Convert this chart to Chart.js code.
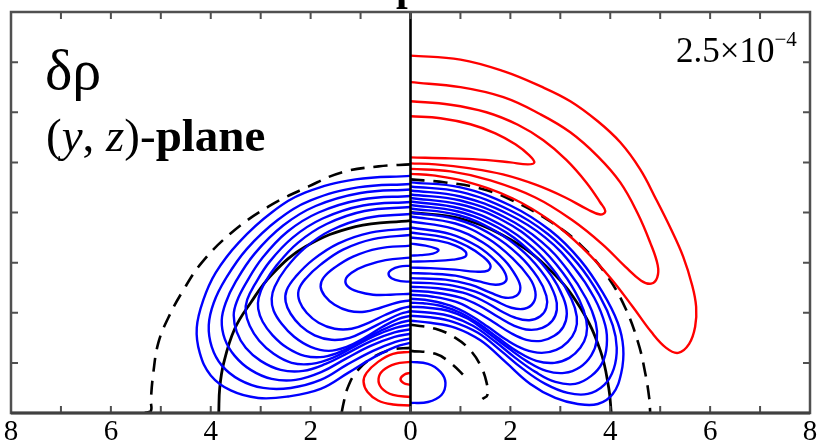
<!DOCTYPE html>
<html>
<head>
<meta charset="utf-8">
<script src="https://cdn.jsdelivr.net/npm/chart.js@4.4.1/dist/chart.umd.min.js"></script>
<style>
  body { margin: 0; background: #fff; }
  #wrap { position: relative; width: 820px; height: 445px; overflow: hidden; background: #fff; }
  #wrap canvas { position: absolute; left: 0; top: 0; }
  .lbl { position: absolute; font-family: 'Liberation Serif', 'Times New Roman', serif; color: #000; white-space: nowrap; line-height: 1; }
</style>
</head>
<body>
<div id="wrap">
  <canvas id="plot" width="820" height="445"></canvas>
  <span class="lbl" style="left:396px; top:-35px; font-size:42px; font-weight:bold;">p</span>
  <span class="lbl" style="left:45px; top:41px; font-size:58px;">δρ</span>
  <span class="lbl" style="left:46px; top:112px; font-size:47px;">(<i>y</i>, <i>z</i>)-<b>plane</b></span>
  <span class="lbl" style="left:676px; top:33px; font-size:35px;">2.5×10<span style="font-size:21px; position:relative; top:-16px;">−4</span></span>
</div>
<script>
// axis ticks
const xTickLabels = ['8', '6', '4', '2', '0', '2', '4', '6', '8'];
const xMinorTicks = [-8, -7, -6, -5, -4, -3, -2, -1, 0, 1, 2, 3, 4, 5, 6, 7, 8];
const yMinorTicks = [0, 1, 2, 3, 4, 5, 6, 7, 8];

// middle axis line
const centerLine = [[0, 0], [0, 8]];

// left half: blue contours (outer -> inner)
const leftBlue = [
  [[0,4.73],[-1.1,4.66],[-2.1,4.4],[-2.78,4.0],[-3.44,3.4],[-3.9,2.8],[-4.15,2.25],[-4.28,1.7],[-4.22,1.2],[-4.0,0.75],[-3.6,0.45],[-3.05,0.3],[-2.45,0.33],[-1.8,0.48],[-1.25,0.8],[-0.72,1.12],[-0.3,1.32],[0,1.4]],
  [[0,4.57],[-1.05,4.5],[-2.0,4.24],[-2.66,3.85],[-3.28,3.27],[-3.7,2.68],[-3.94,2.2],[-4.04,1.75],[-3.98,1.32],[-3.78,0.95],[-3.42,0.66],[-2.95,0.5],[-2.4,0.5],[-1.8,0.66],[-1.28,0.96],[-0.75,1.24],[-0.3,1.42],[0,1.49]],
  [[0,4.46],[-1.0,4.39],[-1.9,4.13],[-2.55,3.74],[-3.12,3.18],[-3.5,2.62],[-3.7,2.2],[-3.78,1.85],[-3.72,1.48],[-3.52,1.14],[-3.2,0.86],[-2.78,0.68],[-2.3,0.66],[-1.78,0.82],[-1.3,1.08],[-0.8,1.34],[-0.32,1.52],[0,1.58]],
  [[0,4.33],[-0.98,4.26],[-1.84,4.0],[-2.46,3.62],[-2.96,3.1],[-3.3,2.58],[-3.48,2.22],[-3.54,1.95],[-3.48,1.62],[-3.3,1.3],[-3.0,1.04],[-2.6,0.86],[-2.15,0.84],[-1.7,0.98],[-1.25,1.2],[-0.78,1.44],[-0.32,1.61],[0,1.67]],
  [[0,4.21],[-0.95,4.14],[-1.76,3.88],[-2.36,3.5],[-2.82,3.02],[-3.12,2.56],[-3.27,2.26],[-3.3,2.02],[-3.22,1.74],[-3.03,1.44],[-2.74,1.18],[-2.38,1.0],[-1.98,0.98],[-1.56,1.1],[-1.14,1.32],[-0.72,1.54],[-0.3,1.7],[0,1.76]],
  [[0,4.11],[-0.92,4.03],[-1.68,3.77],[-2.25,3.4],[-2.67,2.96],[-2.94,2.56],[-3.04,2.3],[-3.05,2.08],[-2.96,1.82],[-2.76,1.55],[-2.47,1.3],[-2.12,1.14],[-1.74,1.12],[-1.36,1.24],[-0.98,1.44],[-0.6,1.64],[-0.25,1.79],[0,1.85]],
  [[0,3.97],[-0.88,3.89],[-1.6,3.64],[-2.13,3.28],[-2.5,2.88],[-2.72,2.52],[-2.78,2.28],[-2.74,2.04],[-2.58,1.78],[-2.33,1.52],[-2.0,1.32],[-1.64,1.24],[-1.28,1.32],[-0.92,1.5],[-0.56,1.72],[-0.24,1.88],[0,1.94]],
  [[0,3.68],[-0.8,3.6],[-1.45,3.38],[-1.95,3.06],[-2.3,2.72],[-2.48,2.45],[-2.5,2.22],[-2.4,1.98],[-2.2,1.74],[-1.92,1.55],[-1.58,1.46],[-1.22,1.5],[-0.86,1.66],[-0.5,1.84],[-0.2,1.98],[0,2.03]],
  [[0,3.55],[-0.75,3.47],[-1.35,3.26],[-1.8,2.96],[-2.1,2.68],[-2.24,2.45],[-2.22,2.22],[-2.08,2.0],[-1.84,1.8],[-1.52,1.68],[-1.18,1.68],[-0.84,1.8],[-0.5,1.96],[-0.2,2.08],[0,2.13]],
  [[0,3.34],[-0.65,3.28],[-1.15,3.12],[-1.52,2.9],[-1.74,2.7],[-1.8,2.52],[-1.72,2.34],[-1.52,2.16],[-1.24,2.04],[-0.92,2.02],[-0.6,2.1],[-0.28,2.2],[0,2.25]],
  [[0,3.1],[-0.5,3.05],[-0.9,2.94],[-1.18,2.8],[-1.3,2.66],[-1.25,2.52],[-1.05,2.42],[-0.75,2.36],[-0.4,2.36],[0,2.38]],
  [[0,2.94],[-0.22,2.92],[-0.38,2.86],[-0.44,2.78],[-0.38,2.69],[-0.2,2.63],[0,2.62]]
];

// left half: red contours near the bottom
const leftRed = [
  [[0,1.22],[-0.35,1.18],[-0.65,1.02],[-0.88,0.8],[-0.94,0.62],[-0.86,0.42],[-0.65,0.25],[-0.35,0.17],[0,0.15]],
  [[0,1.02],[-0.3,0.98],[-0.55,0.85],[-0.64,0.68],[-0.58,0.5],[-0.35,0.36],[0,0.32]],
  [[0,0.8],[-0.12,0.77],[-0.2,0.68],[-0.14,0.6],[0,0.56]]
];

// right half: blue contours (outer -> inner)
const rightBlue = [
  [[0,4.6],[1.0,4.5],[2.0,4.14],[2.8,3.64],[3.4,3.05],[3.85,2.4],[4.15,1.8],[4.26,1.3],[4.22,0.8],[4.05,0.38],[3.75,0.18],[3.35,0.18],[2.9,0.3],[2.4,0.58],[1.9,1.02],[1.4,1.45],[0.9,1.7],[0.4,1.8],[0,1.84]],
  [[0,4.52],[1.0,4.41],[2.0,4.04],[2.75,3.57],[3.35,2.98],[3.78,2.35],[4.05,1.75],[4.13,1.3],[4.07,0.88],[3.88,0.56],[3.55,0.38],[3.15,0.4],[2.7,0.58],[2.25,0.88],[1.8,1.25],[1.35,1.6],[0.85,1.82],[0.4,1.91],[0,1.94]],
  [[0,4.44],[1.0,4.32],[1.95,3.97],[2.7,3.5],[3.28,2.9],[3.68,2.3],[3.9,1.75],[3.93,1.35],[3.84,1.0],[3.62,0.74],[3.3,0.58],[2.9,0.62],[2.5,0.82],[2.1,1.1],[1.7,1.42],[1.25,1.74],[0.8,1.93],[0.4,2.0],[0,2.03]],
  [[0,4.36],[1.0,4.24],[1.9,3.9],[2.62,3.42],[3.15,2.85],[3.52,2.28],[3.71,1.8],[3.73,1.45],[3.62,1.15],[3.4,0.92],[3.08,0.8],[2.72,0.84],[2.35,1.02],[1.95,1.3],[1.55,1.6],[1.15,1.88],[0.75,2.04],[0.35,2.1],[0,2.12]],
  [[0,4.29],[1.0,4.16],[1.85,3.84],[2.55,3.35],[3.05,2.8],[3.38,2.26],[3.52,1.85],[3.52,1.55],[3.4,1.3],[3.18,1.1],[2.88,1.0],[2.52,1.04],[2.15,1.22],[1.78,1.48],[1.4,1.76],[1.0,2.0],[0.6,2.14],[0.25,2.19],[0,2.2]],
  [[0,4.22],[1.0,4.08],[1.8,3.76],[2.45,3.3],[2.92,2.78],[3.22,2.28],[3.33,1.92],[3.3,1.65],[3.15,1.42],[2.92,1.26],[2.62,1.2],[2.28,1.27],[1.92,1.46],[1.55,1.72],[1.18,1.96],[0.8,2.14],[0.4,2.24],[0,2.28]],
  [[0,4.15],[0.95,4.02],[1.75,3.7],[2.38,3.24],[2.82,2.74],[3.06,2.3],[3.13,1.98],[3.06,1.72],[2.88,1.54],[2.62,1.44],[2.32,1.46],[2.0,1.6],[1.65,1.82],[1.28,2.04],[0.9,2.22],[0.45,2.32],[0,2.36]],
  [[0,4.08],[0.95,3.95],[1.7,3.63],[2.28,3.2],[2.7,2.72],[2.9,2.32],[2.93,2.06],[2.84,1.84],[2.64,1.7],[2.38,1.66],[2.08,1.74],[1.75,1.92],[1.38,2.14],[1.0,2.3],[0.5,2.4],[0,2.44]],
  [[0,4.0],[0.9,3.87],[1.62,3.56],[2.18,3.14],[2.55,2.7],[2.72,2.34],[2.72,2.1],[2.6,1.93],[2.38,1.85],[2.1,1.9],[1.8,2.04],[1.45,2.24],[1.05,2.4],[0.55,2.49],[0,2.52]],
  [[0,3.92],[0.9,3.78],[1.55,3.48],[2.05,3.08],[2.38,2.7],[2.5,2.42],[2.46,2.2],[2.28,2.08],[2.02,2.1],[1.7,2.24],[1.3,2.42],[0.85,2.54],[0.4,2.59],[0,2.6]],
  [[0,3.82],[0.85,3.68],[1.45,3.4],[1.88,3.05],[2.12,2.72],[2.2,2.5],[2.12,2.34],[1.9,2.3],[1.6,2.4],[1.2,2.56],[0.7,2.66],[0,2.69]],
  [[0,3.7],[0.8,3.57],[1.35,3.32],[1.72,3.02],[1.9,2.78],[1.9,2.62],[1.7,2.56],[1.35,2.63],[0.9,2.74],[0.4,2.78],[0,2.79]],
  [[0,3.6],[0.7,3.5],[1.15,3.32],[1.45,3.12],[1.6,2.95],[1.55,2.84],[1.3,2.82],[0.9,2.86],[0.4,2.89],[0,2.9]],
  [[0,3.5],[0.55,3.44],[0.9,3.34],[1.1,3.22],[1.1,3.12],[0.85,3.06],[0.4,3.03],[0,3.02]],
  [[0,3.38],[0.3,3.34],[0.52,3.28],[0.56,3.24],[0.45,3.18],[0.2,3.15],[0,3.14]]
];

// right half: small blue loop near the bottom
const rightBlueSmall = [[0,1.02],[0.35,0.98],[0.6,0.82],[0.7,0.6],[0.62,0.36],[0.35,0.22],[0,0.2]];

// right half: red contours (outer -> inner)
const rightRed = [
  [[0,7.13],[1.0,7.05],[1.86,6.82],[2.6,6.52],[3.2,6.22],[3.75,5.82],[4.2,5.4],[4.6,4.86],[4.92,4.26],[5.22,3.66],[5.46,3.12],[5.64,2.55],[5.72,2.12],[5.7,1.72],[5.58,1.38],[5.36,1.2],[5.12,1.3],[4.82,1.62],[4.45,2.12],[4.0,2.7],[3.48,3.26],[2.85,3.8],[2.05,4.28],[1.1,4.62],[0.45,4.74],[0,4.77]],
  [[0,6.6],[1.0,6.5],[1.86,6.3],[2.6,5.96],[3.2,5.6],[3.75,5.12],[4.2,4.6],[4.55,3.98],[4.8,3.4],[4.95,2.95],[4.94,2.7],[4.82,2.58],[4.62,2.64],[4.3,2.92],[3.85,3.36],[3.25,3.84],[2.5,4.3],[1.6,4.64],[0.8,4.82],[0,4.87]],
  [[0,6.22],[0.8,6.15],[1.52,6.0],[2.15,5.75],[2.66,5.44],[3.12,5.05],[3.52,4.6],[3.8,4.2],[3.9,4.02],[3.8,3.96],[3.55,4.06],[3.1,4.3],[2.52,4.55],[1.85,4.76],[1.2,4.88],[0.5,4.96],[0,4.98]],
  [[0,5.92],[0.6,5.88],[1.2,5.76],[1.7,5.58],[2.1,5.36],[2.38,5.14],[2.48,5.0],[2.35,4.96],[2.0,5.0],[1.5,5.05],[0.8,5.08],[0,5.1]]
];

// black solid circles
const leftSolid = [[0,3.84],[-1.1,3.72],[-2.1,3.32],[-2.78,2.76],[-3.2,2.2],[-3.52,1.68],[-3.74,1.0],[-3.82,0.5],[-3.84,0]];
const rightSolid = [[0,4.0],[1.0,3.88],[2.0,3.46],[2.8,2.85],[3.4,2.1],[3.8,1.25],[3.97,0.5],[4.02,0]];

// black dashed curves
const leftDashOuter = [[0,4.96],[-0.64,4.92],[-1.38,4.8],[-2.04,4.52],[-2.84,4.12],[-3.58,3.6],[-4.18,3.0],[-4.55,2.45],[-4.85,1.9],[-5.05,1.4],[-5.15,0.8],[-5.2,0.25],[-5.2,0.04],[-5.35,0]];
const leftDashInner = [[0,1.3],[-0.4,1.26],[-0.8,1.08],[-1.1,0.8],[-1.26,0.5],[-1.34,0.2],[-1.38,0]];
const rightDashOuter = [[0,4.66],[0.7,4.6],[1.4,4.48],[2.0,4.26],[2.8,3.82],[3.4,3.36],[3.92,2.76],[4.3,2.1],[4.56,1.4],[4.7,0.8],[4.78,0.3],[4.8,0]];
const rightDashInnerA = [[0,1.76],[0.5,1.68],[0.9,1.5],[1.2,1.25],[1.4,0.95],[1.52,0.62],[1.54,0.36],[1.44,0.28]];
const rightDashInnerB = [[0,1.24],[0.5,1.18],[0.8,1.0],[1.1,0.72]];

const BLUE = '#0000ff';
const RED = '#ff0000';
const BLACK = '#000000';

function line(points, color, dashed, width) {
    return {
        data: points.map(p => ({ x: p[0], y: p[1] })),
        showLine: true,
        borderColor: color,
        borderWidth: width || 2.4,
        borderDash: dashed ? [14, 9] : [],
        pointRadius: 0,
        tension: 0.4,
        fill: false
    };
}

const datasets = [];
datasets.push(Object.assign(line(centerLine, BLACK, false, 2.6), { tension: 0 }));
leftBlue.forEach(c => datasets.push(line(c, BLUE, false)));
leftRed.forEach(c => datasets.push(line(c, RED, false)));
rightBlue.forEach(c => datasets.push(line(c, BLUE, false)));
datasets.push(line(rightBlueSmall, BLUE, false));
rightRed.forEach(c => datasets.push(line(c, RED, false)));
datasets.push(line(leftSolid, BLACK, false, 2.8));
datasets.push(line(rightSolid, BLACK, false, 2.8));
datasets.push(line(leftDashOuter, BLACK, true, 2.6));
datasets.push(line(leftDashInner, BLACK, true, 2.6));
datasets.push(line(rightDashOuter, BLACK, true, 2.6));
datasets.push(line(rightDashInnerA, BLACK, true, 2.6));
datasets.push(line(rightDashInnerB, BLACK, true, 2.6));

// frame with inward tick marks on all four sides
const framePlugin = {
    id: 'frame',
    afterDatasetsDraw(chart) {
        const { ctx, chartArea: a, scales } = chart;
        const len = 7;
        ctx.save();
        ctx.strokeStyle = '#505050';
        ctx.lineWidth = 2;
        xMinorTicks.forEach(v => {
            const px = scales.x.getPixelForValue(v);
            ctx.beginPath();
            ctx.moveTo(px, a.bottom); ctx.lineTo(px, a.bottom - len);
            ctx.moveTo(px, a.top); ctx.lineTo(px, a.top + len);
            ctx.stroke();
        });
        yMinorTicks.forEach(v => {
            const py = scales.y.getPixelForValue(v);
            ctx.beginPath();
            ctx.moveTo(a.left, py); ctx.lineTo(a.left + len, py);
            ctx.moveTo(a.right, py); ctx.lineTo(a.right - len, py);
            ctx.stroke();
        });
        ctx.lineWidth = 2.5;
        ctx.strokeRect(a.left, a.top, a.right - a.left, a.bottom - a.top);
        ctx.strokeStyle = '#404040';
        ctx.lineWidth = 3;
        ctx.beginPath();
        ctx.moveTo(a.left, a.bottom); ctx.lineTo(a.right, a.bottom);
        ctx.stroke();
        ctx.restore();
    }
};

new Chart(document.getElementById('plot'), {
    type: 'scatter',
    data: { datasets: datasets },
    options: {
        responsive: false,
        devicePixelRatio: 1,
        animation: false,
        layout: { padding: { left: 11, right: 10, top: 12, bottom: 0 } },
        plugins: { legend: { display: false }, tooltip: { enabled: false } },
        scales: {
            x: {
                type: 'linear', min: -8, max: 8,
                grid: { display: false, drawTicks: false },
                border: { display: false },
                ticks: {
                    stepSize: 2, autoSkip: false, maxRotation: 0, padding: 2,
                    color: '#000',
                    font: { family: 'Liberation Serif', size: 29 },
                    callback: (v, i) => xTickLabels[i]
                },
                afterFit: s => { s.height = 32; }
            },
            y: { type: 'linear', min: 0, max: 8, display: false }
        }
    },
    plugins: [framePlugin]
});
</script>
</body>
</html>
